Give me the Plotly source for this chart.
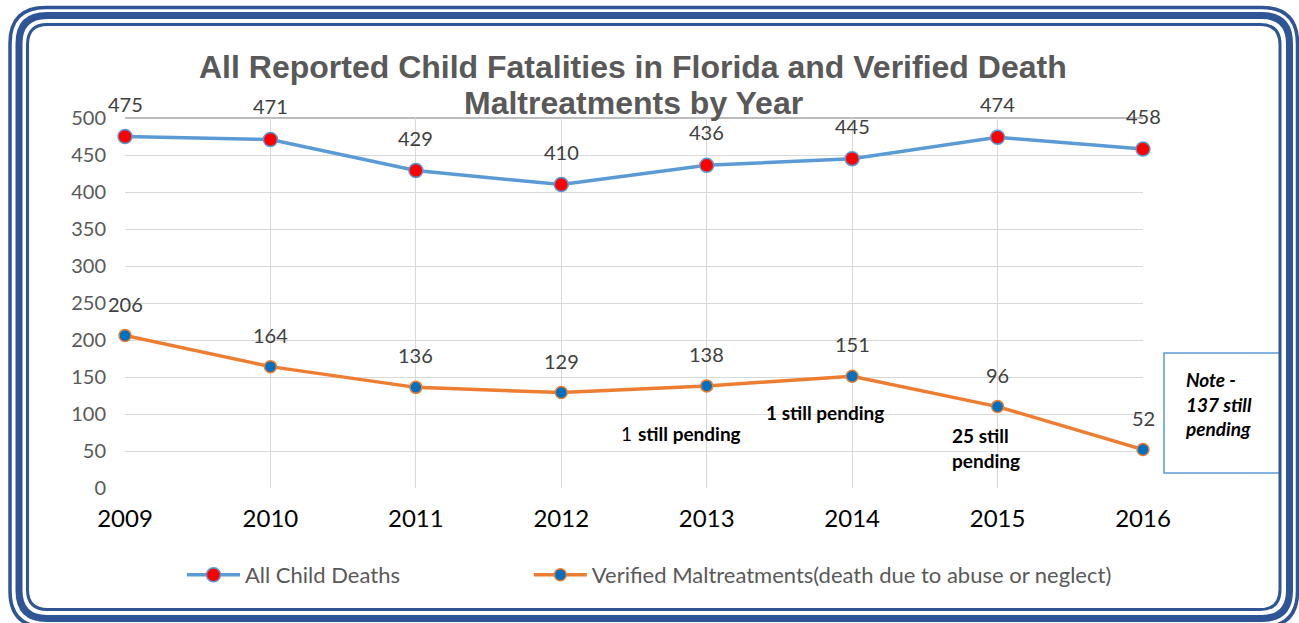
import plotly.graph_objects as go

years = [2009, 2010, 2011, 2012, 2013, 2014, 2015, 2016]
all_deaths = [475, 471, 429, 410, 436, 445, 474, 458]
verified = [206, 164, 136, 129, 138, 151, 110, 52]
verified_labels = ["206", "164", "136", "129", "138", "151", "96", "52"]
all_labels = [str(v) for v in all_deaths]
y_ticks = list(range(0, 501, 50))

W, H = 1299, 623
L, R, T, B = 125, 156, 118, 135
PW, PH = W - L - R, H - T - B


def px(x):
    return (x - L) / PW


def py(y):
    return (H - B - y) / PH


def rrect(x0, y0, x1, y1, r):
    pts = [
        f"M {px(x0 + r)},{py(y0)}",
        f"L {px(x1 - r)},{py(y0)}",
        f"Q {px(x1)},{py(y0)} {px(x1)},{py(y0 + r)}",
        f"L {px(x1)},{py(y1 - r)}",
        f"Q {px(x1)},{py(y1)} {px(x1 - r)},{py(y1)}",
        f"L {px(x0 + r)},{py(y1)}",
        f"Q {px(x0)},{py(y1)} {px(x0)},{py(y1 - r)}",
        f"L {px(x0)},{py(y0 + r)}",
        f"Q {px(x0)},{py(y0)} {px(x0 + r)},{py(y0)}",
        "Z",
    ]
    return " ".join(pts)


FONT = "Lato"
NB = "\u00a0"
fig = go.Figure()
fig.add_trace(go.Scatter(
    x=years, y=all_deaths, mode="lines+markers", name="All Child Deaths" + NB * 22,
    line=dict(color="#5B9BD5", width=3.5),
    marker=dict(color="#FF0000", size=14, line=dict(color="#5B9BD5", width=1.5)),
    cliponaxis=False,
))
fig.add_trace(go.Scatter(
    x=years, y=verified, mode="lines+markers",
    name="Verified Maltreatments(death due to abuse or neglect)",
    line=dict(color="#ED7D31", width=3.5),
    marker=dict(color="#0070C0", size=12, line=dict(color="#ED7D31", width=1.5)),
    cliponaxis=False,
))

annotations = []
for xv, yv, t in zip(years, all_deaths, all_labels):
    annotations.append(dict(x=xv, y=yv, text=t, showarrow=False, yshift=33,
                            font=dict(family=FONT, size=20, color="#404040")))
for xv, yv, t in zip(years, verified, verified_labels):
    annotations.append(dict(x=xv, y=yv, text=t, showarrow=False, yshift=32,
                            font=dict(family=FONT, size=20, color="#404040")))

pend_b = dict(family=FONT, size=19, color="#000000", weight="bold")
pend_n = dict(family=FONT, size=19, color="#000000")
annotations += [
    dict(xref="paper", yref="paper", x=px(634), y=py(433), text="1", xanchor="right",
         yanchor="middle", showarrow=False, font=pend_n),
    dict(xref="paper", yref="paper", x=px(636), y=py(433), text="still pending", xanchor="left",
         yanchor="middle", showarrow=False, font=pend_b),
    dict(xref="paper", yref="paper", x=px(825), y=py(412), text="1 still pending",
         xanchor="center", yanchor="middle", showarrow=False, font=pend_b),
    dict(xref="paper", yref="paper", x=px(950), y=py(448), text="25 still<br>pending",
         showarrow=False, xanchor="left", yanchor="middle", align="left", font=pend_b),
    dict(xref="paper", yref="paper", x=px(1183), y=py(404),
         text="Note -<br>137 still<br>pending",
         showarrow=False, xanchor="left", yanchor="middle", align="left",
         font=dict(family=FONT, size=19, color="#000000", weight="bold", style="italic")),
    dict(xref="paper", yref="paper", x=px(633), y=py(67), xanchor="center", yanchor="middle",
         text="All Reported Child Fatalities in Florida and Verified Death", showarrow=False,
         font=dict(family="Liberation Sans", size=32, color="#595959", weight="bold")),
    dict(xref="paper", yref="paper", x=px(633), y=py(103), xanchor="center", yanchor="middle",
         text="Maltreatments by Year", showarrow=False,
         font=dict(family="Liberation Sans", size=32, color="#595959", weight="bold")),
]

shapes = [
    dict(type="line", xref="paper", yref="paper", x0=0, x1=1, y0=1, y1=1,
         line=dict(color="#A6A6A6", width=1.5), layer="below"),
    dict(type="rect", xref="paper", yref="paper", x0=px(1164), x1=px(1280),
         y0=py(353), y1=py(473), line=dict(color="#5B9BD5", width=1.5)),
    dict(type="path", xref="paper", yref="paper", path=rrect(19, 15.5, 1289.5, 618.5, 28),
         line=dict(color="#2F5597", width=7)),
    dict(type="path", xref="paper", yref="paper", path=rrect(10, 7.5, 1297.5, 627, 36),
         line=dict(color="#2F5597", width=3.5)),
    dict(type="path", xref="paper", yref="paper", path=rrect(27.5, 24.5, 1280, 609.5, 20),
         line=dict(color="#2F5597", width=3)),
]

fig.update_layout(
    width=W, height=H,
    margin=dict(l=L, r=R, t=T, b=B),
    paper_bgcolor="white", plot_bgcolor="white",
    xaxis=dict(range=[2009, 2016], tickvals=years, ticktext=[str(y) for y in years],
               showgrid=True, gridcolor="#D9D9D9", gridwidth=1, zeroline=False,
               showline=False, ticks="", ticklabelstandoff=14,
               tickfont=dict(family=FONT, size=24, color="#000000")),
    yaxis=dict(range=[0, 500], tickvals=y_ticks, showgrid=True, gridcolor="#D9D9D9",
               gridwidth=1, zeroline=False, showline=False, ticks="", ticklabelstandoff=18,
               tickfont=dict(family=FONT, size=20, color="#595959")),
    showlegend=True,
    legend=dict(orientation="h", x=px(182), xanchor="left", y=py(575), yanchor="middle",
                itemwidth=53,
                font=dict(family=FONT, size=22, color="#595959"),
                bgcolor="rgba(0,0,0,0)"),
    annotations=annotations,
    shapes=shapes,
)

fig.write_html("out.html", config={"displayModeBar": False},
               post_script="document.body.style.margin='0px';")
